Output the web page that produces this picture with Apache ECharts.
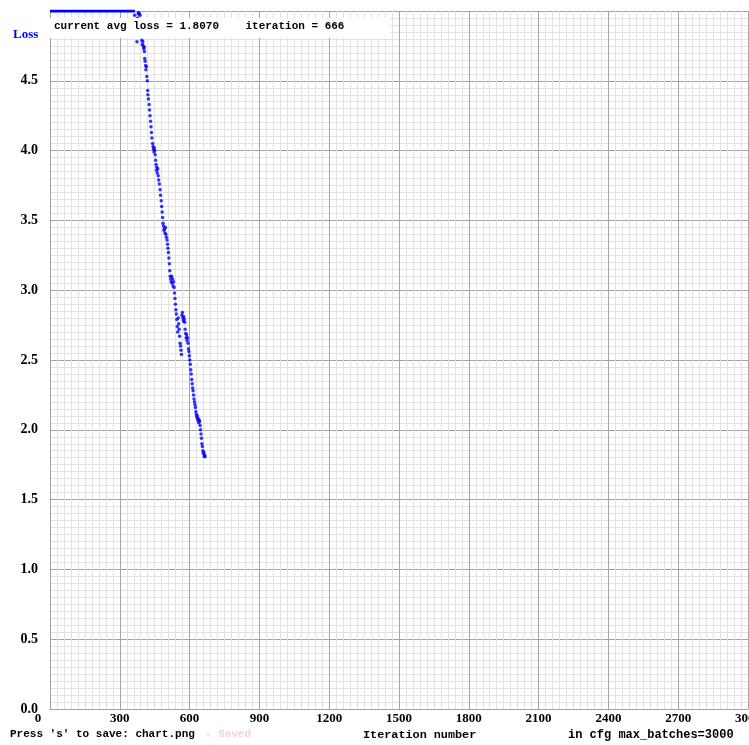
<!DOCTYPE html>
<html>
<head>
<meta charset="utf-8">
<title>Loss chart</title>
<script src="https://cdn.jsdelivr.net/npm/echarts@6/dist/echarts.min.js"></script>
<style>
  html, body { margin: 0; padding: 0; background: #fff; }
  #chart { width: 749px; height: 745px; }
</style>
</head>
<body>
<div id="chart"></div>
<script>
// iterations where avg loss was above the top of the chart (drawn clamped at 5.0)
const clippedIters = [0, 60, 120, 180, 240, 300, 365];
const clippedLoss = [5.0, 5.0, 5.0, 5.0, 5.0, 5.0, 5.0];

// avg loss per iteration
const iters = [
  364, 368, 370, 372, 374, 377, 379, 381, 384, 387, 390, 393, 395, 397, 399,
  401, 403, 405, 406, 407, 409, 411, 412, 414, 416, 418, 420, 421, 423, 426,
  428, 430, 432, 434, 436, 438, 441, 443, 445, 447, 448, 450, 452, 454, 456,
  458, 459, 461, 463, 465, 467, 470, 473, 475, 478, 480, 482, 484, 486, 488,
  490, 492, 494, 496, 498, 500, 503, 505, 507, 509, 511, 513, 515, 517, 519,
  521, 523, 525, 527, 529, 531, 533, 535, 537, 539, 541, 543, 545, 547, 549,
  551, 553, 555, 557, 559, 561, 563, 565, 567, 569, 571, 573, 575, 577, 579,
  581, 583, 585, 587, 589, 591, 593, 595, 597, 599, 601, 603, 605, 607, 609,
  611, 613, 615, 617, 619, 621, 623, 625, 627, 629, 631, 633, 635, 637, 639,
  641, 643, 645, 647, 649, 651, 653, 655, 657, 659, 661, 663, 665, 666
];
const avgLoss = [
  4.97, 4.92, 4.82, 4.88, 4.78, 4.95, 4.98, 4.99, 4.98, 4.97, 4.90, 4.85, 4.79, 4.76, 4.78,
  4.75, 4.73, 4.74, 4.71, 4.66, 4.64, 4.61, 4.58, 4.60, 4.53, 4.50, 4.43, 4.40, 4.37, 4.33,
  4.29, 4.25, 4.21, 4.17, 4.13, 4.09, 4.05, 4.03, 4.01, 3.99, 4.02, 4.00, 3.97, 3.93, 3.90,
  3.86, 3.88, 3.84, 3.87, 3.82, 3.79, 3.76, 3.72, 3.68, 3.64, 3.60, 3.56, 3.52, 3.48, 3.46,
  3.43, 3.44, 3.41, 3.45, 3.40, 3.38, 3.36, 3.33, 3.30, 3.27, 3.23, 3.19, 3.14, 3.10, 3.08,
  3.06, 3.10, 3.05, 3.08, 3.03, 3.06, 3.02, 2.98, 2.94, 2.90, 2.86, 2.83, 2.79, 2.74, 2.70,
  2.80, 2.76, 2.72, 2.67, 2.62, 2.60, 2.57, 2.54, 2.82, 2.84, 2.80, 2.78, 2.81, 2.79, 2.77,
  2.72, 2.69, 2.66, 2.68, 2.64, 2.66, 2.62, 2.58, 2.56, 2.53, 2.50, 2.47, 2.43, 2.40, 2.36,
  2.33, 2.30, 2.28, 2.25, 2.22, 2.20, 2.18, 2.16, 2.13, 2.11, 2.09, 2.10, 2.07, 2.08, 2.05,
  2.07, 2.06, 2.03, 2.00, 1.97, 1.94, 1.90, 1.88, 1.85, 1.83, 1.84, 1.81, 1.82, 1.807
];

const currentAvgLoss = 1.8070;
const currentIteration = 666;
const maxBatches = 3000;

let myChart = echarts.init(document.getElementById("chart"));

const labelFont = "Liberation Serif";
const textFont = "Liberation Mono";

let option = {
  animation: false,
  backgroundColor: "#ffffff",
  grid: { left: 50, top: 11, width: 698, height: 698, outerBoundsMode: "none", containLabel: false },
  xAxis: {
    type: "value",
    min: 0,
    max: maxBatches,
    interval: 300,
    axisLine: { show: true, lineStyle: { color: "#a0a0a0", width: 1 } },
    axisTick: { show: false },
    minorTick: { show: false, splitNumber: 10 },
    splitLine: { show: true, lineStyle: { color: "#a4a4a4", width: 1 } },
    minorSplitLine: { show: true, lineStyle: { color: "#e2e2e2", width: 1 } },
    axisLabel: {
      margin: 3,
      color: "#000",
      fontFamily: labelFont,
      fontWeight: "bold",
      fontSize: 13,
      showMaxLabel: true,
      hideOverlap: false,
      formatter: function (v) {
        return v === 0 ? "{z|0}" : String(v);
      },
      rich: { z: { padding: [0, 24, 0, 0], fontFamily: labelFont, fontWeight: "bold", fontSize: 13, color: "#000" } }
    }
  },
  yAxis: {
    type: "value",
    min: 0,
    max: 5,
    interval: 0.5,
    axisLine: { show: true, lineStyle: { color: "#a0a0a0", width: 1 } },
    axisTick: { show: false },
    minorTick: { show: false, splitNumber: 10 },
    splitLine: { show: true, lineStyle: { color: "#a4a4a4", width: 1 } },
    minorSplitLine: { show: true, lineStyle: { color: "#e2e2e2", width: 1 } },
    axisLabel: {
      margin: 12,
      color: "#000",
      fontFamily: labelFont,
      fontWeight: "bold",
      fontSize: 14,
      showMaxLabel: false,
      formatter: function (v) { return v.toFixed(1); }
    }
  },
  series: [
    // loss above 5 drawn flat along the top edge
    {
      type: "line",
      data: clippedIters.map((it, i) => [it, clippedLoss[i]]),
      showSymbol: false,
      lineStyle: { color: "#0000ff", width: 3 },
      z: 3
    },
    {
      type: "scatter",
      data: iters.map((it, i) => [it, avgLoss[i]]),
      symbol: "circle",
      symbolSize: 3.5,
      itemStyle: { color: "#0000ff" },
      z: 3
    }
  ],
  graphic: [
    {
      type: "rect",
      left: 50,
      top: 18,
      shape: { width: 340, height: 20 },
      style: { fill: "#ffffff" },
      z: 100
    },
    {
      type: "text",
      left: 54,
      top: 21,
      z: 101,
      style: {
        text: "current avg loss = " + currentAvgLoss.toFixed(4) + "    iteration = " + currentIteration,
        font: "bold 11px '" + textFont + "'",
        fill: "#000"
      }
    },
    {
      type: "text",
      left: 13,
      top: 28,
      style: { text: "Loss", font: "bold 13px '" + labelFont + "'", fill: "#0000ff" }
    },
    {
      type: "text",
      left: 10,
      top: 729,
      style: { text: "Press 's' to save: chart.png", font: "bold 11px '" + textFont + "'", fill: "#000" }
    },
    {
      type: "text",
      left: 205,
      top: 729,
      style: { text: "- Saved", font: "bold 11px '" + textFont + "'", fill: "#f6d2d2" }
    },
    {
      type: "text",
      left: 363,
      top: 729,
      style: { text: "Iteration number", font: "bold 11.8px '" + textFont + "'", fill: "#000" }
    },
    {
      type: "text",
      left: 568,
      top: 729,
      style: { text: "in cfg max_batches=" + maxBatches, font: "bold 12px '" + textFont + "'", fill: "#000" }
    }
  ]
};

myChart.setOption(option);
window.addEventListener("resize", function () {
  myChart.resize();
});
</script>
</body>
</html>
